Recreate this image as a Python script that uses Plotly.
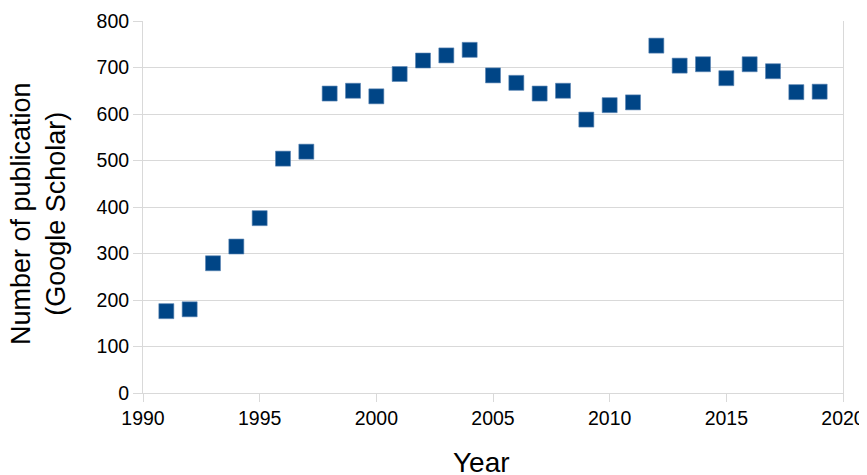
import plotly.graph_objects as go

years = list(range(1991, 2020))
publications = [176, 180, 279, 315, 376, 504, 519, 644, 650, 638,
                686, 715, 726, 738, 683, 667, 644, 650, 588, 619,
                625, 747, 704, 707, 677, 707, 692, 647, 648]

x_ticks = [1990, 1995, 2000, 2005, 2010, 2015, 2020]
y_ticks = [0, 100, 200, 300, 400, 500, 600, 700, 800]

x_title = "Year"
y_title = "Number of publication<br>(Google Scholar)"

grid = "#d9d9d9"
font = "Liberation Sans, Arial, sans-serif"

fig = go.Figure(go.Scatter(
    x=years, y=publications, mode="markers",
    marker=dict(symbol="square", size=15, color="#004586",
                line=dict(width=0.6, color="#5a85b3")),
    showlegend=False,
))

fig.update_layout(
    width=859, height=467,
    margin=dict(l=135, r=24, t=13, b=82),
    paper_bgcolor="white", plot_bgcolor="white",
    font=dict(family=font, color="#000000", size=20),
)
fig.update_xaxes(
    range=[1990, 2020], tickvals=x_ticks, ticktext=[str(v) for v in x_ticks],
    showgrid=False, zeroline=False,
    showline=True, linecolor=grid, linewidth=1,
    ticks="outside", ticklen=8, tickcolor=grid, tickfont=dict(size=19.5),
    automargin=False,
)
fig.update_yaxes(
    range=[0, 800], tickvals=y_ticks, ticktext=[str(v) for v in y_ticks],
    showgrid=True, gridcolor=grid, gridwidth=1, zeroline=False,
    showline=True, linecolor=grid, linewidth=1, mirror=True,
    ticks="outside", ticklen=9, tickcolor=grid, tickfont=dict(size=19.5),
    automargin=False,
)
fig.add_annotation(
    text=x_title, xref="paper", yref="paper", x=0.483, y=0,
    xanchor="center", yanchor="top", yshift=-52, showarrow=False,
    font=dict(size=28, family=font, color="#000000"),
)
fig.add_annotation(
    text=y_title, xref="paper", yref="paper", x=0, y=0.481,
    xanchor="center", yanchor="middle", xshift=-105, textangle=-90,
    showarrow=False, font=dict(size=27, family=font, color="#000000"),
)

fig.write_html("out.html")
